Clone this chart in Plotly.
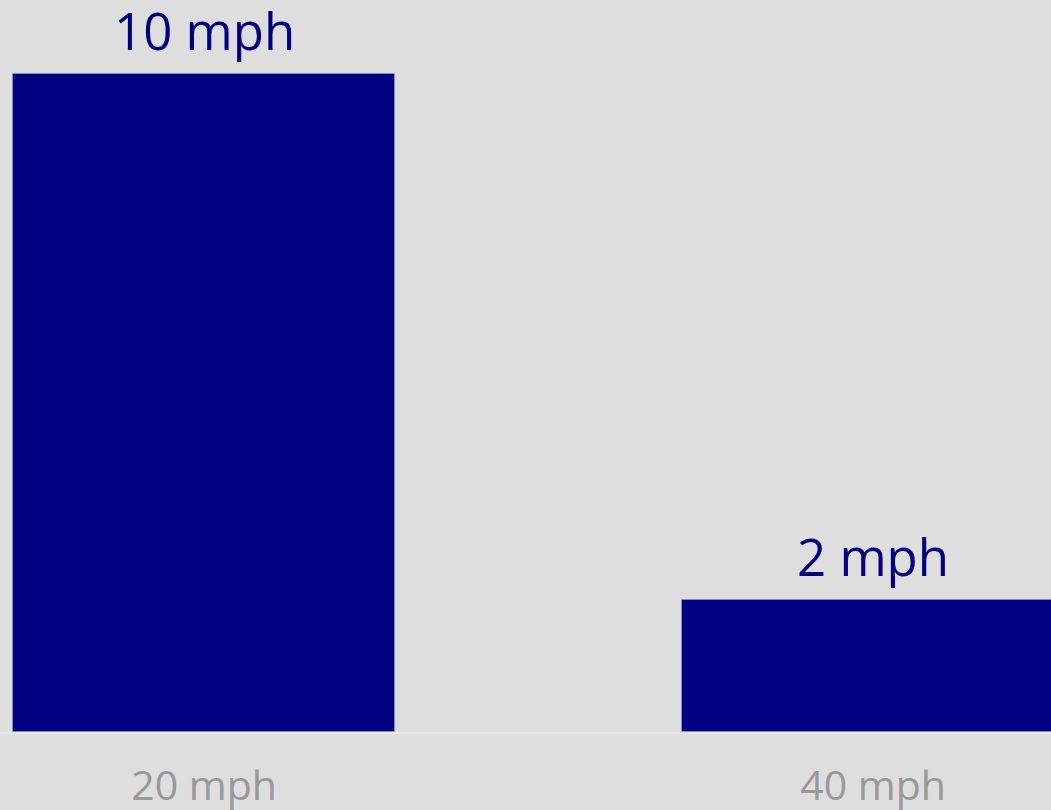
import plotly.graph_objects as go

speeds = [0, 1]
speed_labels = ["20 mph", "40 mph"]
values = [10, 2]
value_labels = ["10 mph", "2 mph"]

NAVY = "#000080"
BG = "#dedede"

fig = go.Figure(
    go.Bar(
        x=speeds,
        y=values,
        width=0.571,
        marker=dict(color=NAVY, line=dict(color="rgba(150,150,220,0.6)", width=1)),
        cliponaxis=False,
        hoverinfo="skip",
    )
)

for xv, yv, lab in zip(speeds, values, value_labels):
    fig.add_annotation(
        x=xv,
        y=yv,
        text=lab,
        showarrow=False,
        xanchor="center",
        yanchor="bottom",
        yshift=8,
        borderpad=0,
        font=dict(family="Open Sans", size=51, color=NAVY),
    )

fig.update_layout(
    width=1051,
    height=810,
    margin=dict(l=0, r=0, t=0, b=78, autoexpand=False),
    paper_bgcolor=BG,
    plot_bgcolor=BG,
    showlegend=False,
    bargap=0,
)
fig.update_xaxes(
    range=[-0.305, 1.266],
    tickmode="array",
    tickvals=speeds,
    ticktext=speed_labels,
    tickfont=dict(family="Open Sans", size=41, color="#999999"),
    showgrid=False,
    zeroline=False,
    showline=True,
    linecolor="#e8e8e8",
    linewidth=2,
    ticks="",
    ticklabelstandoff=17,
    automargin=False,
)
fig.update_yaxes(
    range=[0, 11.125],
    visible=False,
    showgrid=False,
    zeroline=False,
)

fig.write_html(
    "out.html",
    config={"displayModeBar": False},
    post_script="document.body.style.margin='0';document.body.style.background='#dedede';",
)
